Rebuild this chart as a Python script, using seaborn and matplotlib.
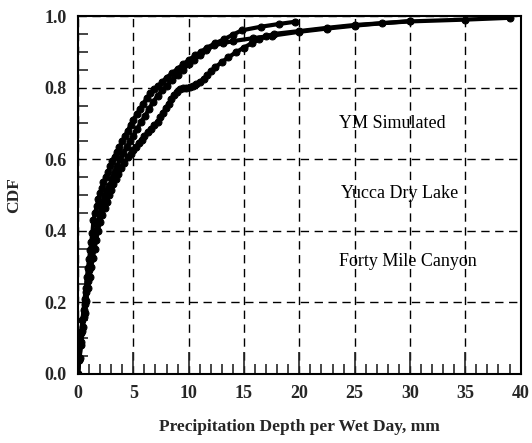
import numpy as np
import pandas as pd
import matplotlib
matplotlib.use("Agg")
import matplotlib.pyplot as plt
import seaborn as sns
from matplotlib.ticker import MultipleLocator


# Curve: the one that stops at 20 mm
ym_x = [0, 0.1, 0.2, 0.3, 0.4, 0.5, 0.6, 0.7, 0.8, 0.9, 1.0, 1.1, 1.2, 1.3, 1.4,
        1.55, 1.7, 1.85, 2.0, 2.15, 2.3, 2.5, 2.7, 2.9, 3.1, 3.3, 3.5, 3.75, 4.0,
        4.25, 4.5, 4.75, 5.0, 5.3, 5.6, 5.9, 6.2, 6.55, 6.9, 7.25, 7.6, 8.0, 8.5,
        9.0, 9.5, 10.0, 10.6, 11.1, 11.7, 12.4, 13.2, 14.0, 14.8, 16.5, 18.2, 19.6]
ym_y = [0, 0.04, 0.08, 0.115, 0.15, 0.18, 0.21, 0.24, 0.27, 0.295, 0.32, 0.345,
        0.37, 0.395, 0.43, 0.45, 0.47, 0.49, 0.505, 0.52, 0.535, 0.55, 0.565, 0.58,
        0.595, 0.607, 0.62, 0.635, 0.65, 0.665, 0.68, 0.695, 0.71, 0.725, 0.74,
        0.755, 0.77, 0.785, 0.795, 0.805, 0.815, 0.828, 0.84, 0.853, 0.865, 0.877,
        0.89, 0.9, 0.912, 0.924, 0.935, 0.948, 0.96, 0.97, 0.978, 0.984]

# Curve with the step near 0.8, runs out to ~39 mm
yucca_x = [0, 0.15, 0.3, 0.45, 0.6, 0.75, 0.9, 1.05, 1.2, 1.35, 1.5, 1.65, 1.8,
           2.0, 2.2, 2.4, 2.6, 2.8, 3.0, 3.2, 3.4, 3.65, 3.9, 4.2, 4.5, 4.75, 5.0,
           5.25, 5.5, 5.75, 6.0, 6.3, 6.6, 6.9, 7.2, 7.45, 7.7, 7.95, 8.2, 8.45,
           8.7, 8.95, 9.2, 9.5, 9.8, 10.1, 10.4, 10.7, 11.0, 11.35, 11.7, 12.05,
           12.4, 13.0, 13.6, 14.3, 15.0, 15.7, 16.4, 17.0, 17.7, 20.0, 22.5, 25.0,
           30.0, 35.0, 39.0]
yucca_y = [0, 0.045, 0.09, 0.13, 0.17, 0.205, 0.24, 0.27, 0.30, 0.325, 0.35, 0.375,
           0.40, 0.425, 0.445, 0.465, 0.48, 0.5, 0.515, 0.53, 0.545, 0.56, 0.575,
           0.59, 0.605, 0.615, 0.625, 0.635, 0.645, 0.655, 0.665, 0.675, 0.685,
           0.695, 0.705, 0.718, 0.73, 0.743, 0.755, 0.768, 0.78, 0.788, 0.795,
           0.798, 0.80, 0.802, 0.805, 0.81, 0.815, 0.825, 0.835, 0.846, 0.857,
           0.871, 0.885, 0.899, 0.912, 0.924, 0.935, 0.943, 0.95, 0.958, 0.967,
           0.975, 0.985, 0.99, 0.995]

# Curve in between, stops at 30 mm
forty_x = [0, 0.12, 0.25, 0.38, 0.5, 0.62, 0.75, 0.88, 1.0, 1.15, 1.3, 1.45, 1.6,
           1.8, 2.0, 2.2, 2.4, 2.6, 2.8, 3.05, 3.3, 3.55, 3.8, 4.1, 4.4, 4.7, 5.0,
           5.35, 5.7, 6.05, 6.4, 6.8, 7.2, 7.6, 8.0, 8.5, 9.0, 9.5, 10.0, 10.5,
           11.0, 11.6, 12.3, 13.1, 14.0, 15.8, 17.5, 20.0, 22.5, 25.0, 27.5, 30.0]
forty_y = [0, 0.04, 0.08, 0.12, 0.16, 0.195, 0.23, 0.26, 0.29, 0.32, 0.35, 0.375,
           0.40, 0.425, 0.45, 0.475, 0.495, 0.51, 0.525, 0.545, 0.565, 0.58, 0.60,
           0.617, 0.635, 0.65, 0.665, 0.685, 0.705, 0.72, 0.74, 0.76, 0.778, 0.792,
           0.805, 0.82, 0.835, 0.85, 0.865, 0.878, 0.89, 0.905, 0.918, 0.924, 0.93,
           0.938, 0.945, 0.956, 0.965, 0.973, 0.98, 0.986]

labels = ["YM Simulated", "Yucca Dry Lake", "Forty Mile Canyon"]
label_x = [28.4, 29.1, 29.8]
label_y = [0.70, 0.505, 0.315]

sns.set_style("white")
plt.rcParams['font.family'] = ['Liberation Serif', 'DejaVu Serif']

fig = plt.figure(figsize=(5.32, 4.43), dpi=100)
ax = fig.add_axes([0.1466, 0.1558, 0.832, 0.808])

for xs, ys in [(ym_x, ym_y), (yucca_x, yucca_y), (forty_x, forty_y)]:
    df = pd.DataFrame({"x": xs, "y": ys})
    sns.lineplot(data=df, x="x", y="y", ax=ax, sort=False, color="black",
                 linewidth=3.0, marker="o", markersize=5, markeredgecolor="black",
                 zorder=3)

for txt, tx, ty in zip(labels, label_x, label_y):
    ax.text(tx, ty, txt, ha="center", va="center", fontsize=13, color="black")

ax.set_xlim(0, 40)
ax.set_ylim(0, 1.0)
ax.xaxis.set_major_locator(MultipleLocator(5))
ax.xaxis.set_minor_locator(MultipleLocator(1))
ax.yaxis.set_major_locator(MultipleLocator(0.2))
ax.yaxis.set_minor_locator(MultipleLocator(0.05))
ax.yaxis.set_major_formatter(matplotlib.ticker.FormatStrFormatter('%.1f'))

ax.grid(True, which="major", color="black", linestyle=(0, (6, 4)), linewidth=1.0)
ax.tick_params(which="major", direction="in", length=0, labelsize=13, pad=8)
ax.tick_params(axis="x", which="major", length=16, width=1.2, bottom=True)
ax.tick_params(which="minor", direction="in", length=7, width=1.2,
               bottom=True, left=True)
for lab in ax.get_xticklabels() + ax.get_yticklabels():
    lab.set_fontweight("bold")

for s in ax.spines.values():
    s.set_color("black")
    s.set_linewidth(1.5)

ax.set_xlabel("Precipitation Depth per Wet Day, mm", fontsize=12.5,
              fontweight="bold", labelpad=12)
ax.set_ylabel("CDF", fontsize=12.5, fontweight="bold", labelpad=16)

fig.savefig("out.png", dpi=100)
